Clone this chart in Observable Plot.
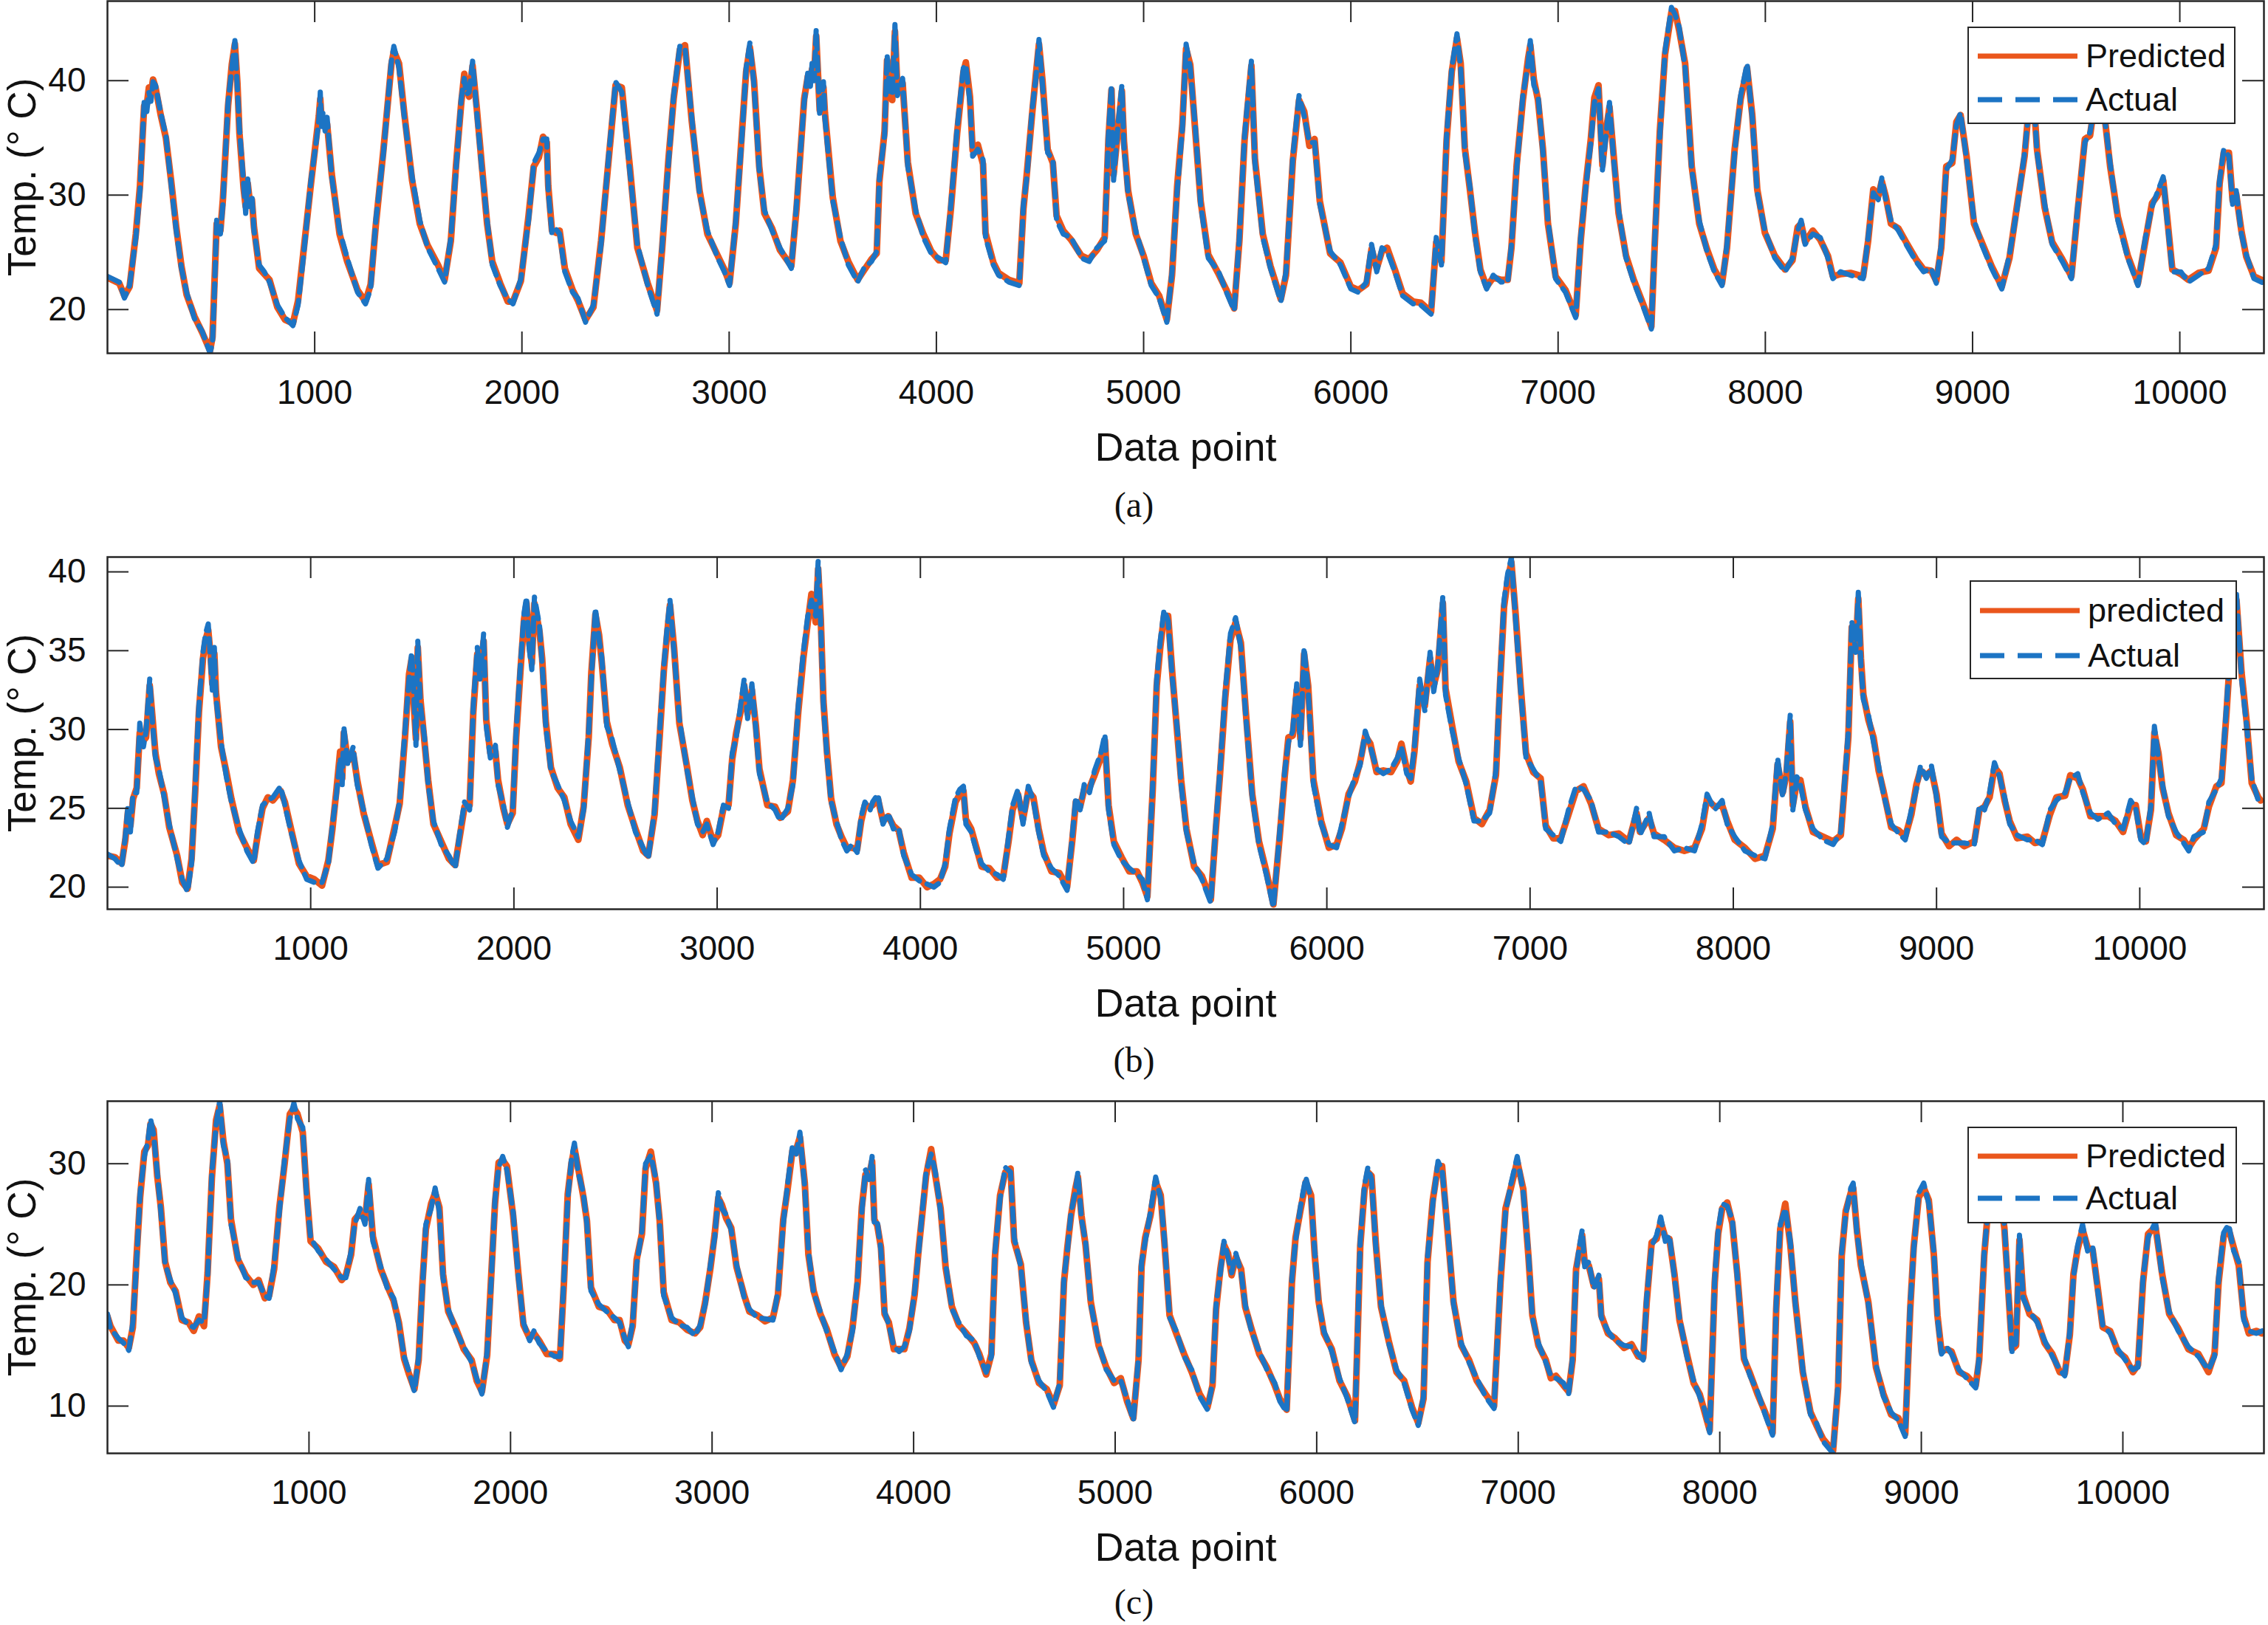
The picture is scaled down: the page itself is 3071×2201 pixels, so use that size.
<!DOCTYPE html>
<html>
<head>
<meta charset="utf-8">
<script src="https://cdn.jsdelivr.net/npm/d3@7"></script>
<script src="https://cdn.jsdelivr.net/npm/@observablehq/plot@0.6"></script>
<style>
  html, body { margin: 0; padding: 0; background: #fff; }
  #fig { position: relative; width: 3071px; height: 2201px; overflow: hidden; background: #fff; }
  .panel { position: absolute; left: 0; }
  .cap { position: absolute; left: 0; width: 3071px; height: 60px; line-height: 60px; text-align: center;
         font-family: "Liberation Serif", "Times New Roman", serif; font-size: 48px; color: #111; }
  .legend { position: absolute; background: #fff; border: 2.5px solid #262626; box-sizing: border-box;
            font-family: "Liberation Sans", Arial, sans-serif; font-size: 45px; color: #111; }
  .legend .row { position: absolute; left: 0; height: 50px; width: 100%; }
  .legend svg { position: absolute; left: 12px; top: 0; }
  .legend span { position: absolute; left: 158px; top: 0; line-height: 50px; }
</style>
</head>
<body>
<div id="fig"></div>
<script>
// ---------------- DATA ----------------
const xTicks = [1000, 2000, 3000, 4000, 5000, 6000, 7000, 8000, 9000, 10000];
const yTicksA = [20, 30, 40];
const yTicksB = [20, 25, 30, 35, 40];
const yTicksC = [10, 20, 30];
const seriesNames = ["Predicted", "Actual"];
const seriesNamesB = ["predicted", "Actual"];
const captions = ["(a)", "(b)", "(c)"];

// Panel (a)
const xA = [
0,57,82,107,137,157,177,190,200,210,
220,232,257,282,307,332,357,382,420,457,
495,507,517,527,545,557,582,600,615,627,
637,657,667,677,687,697,707,732,757,782,
820,857,895,920,945,982,1007,1020,1027,1033,
1040,1050,1060,1082,1120,1157,1207,1245,1270,1295,
1332,1370,1382,1407,1432,1470,1507,1545,1595,1627,
1657,1682,1707,1722,1732,1745,1762,1782,1807,1832,
1857,1895,1932,1957,1995,2032,2057,2082,2102,2120,
2127,2145,2165,2182,2207,2245,2270,2307,2345,2382,
2420,2452,2482,2520,2557,2607,2652,2677,2707,2732,
2762,2787,2820,2857,2895,2945,2977,3002,3032,3062,
3082,3100,3120,3145,3170,3207,3245,3300,3325,3362,
3380,3392,3400,3410,3420,3437,3455,3462,3500,3537,
3575,3620,3650,3687,3712,3725,3750,3762,3775,3787,
3800,3812,3837,3862,3900,3937,3975,4012,4045,4070,
4100,4130,4142,4162,4175,4200,4225,4237,4275,4300,
4350,4400,4420,4437,4462,4480,4495,4512,4537,4562,
4580,4612,4650,4700,4737,4775,4812,4830,4845,4855,
4875,4895,4905,4925,4962,5000,5037,5075,5112,5137,
5162,5187,5205,5225,5250,5275,5312,5362,5400,5437,
5462,5487,5520,5537,5575,5612,5662,5687,5720,5750,
5775,5800,5825,5850,5900,5950,6000,6037,6075,6100,
6125,6150,6175,6212,6250,6300,6337,6387,6412,6437,
6462,6487,6512,6530,6550,6575,6600,6625,6655,6687,
6725,6757,6775,6800,6830,6855,6866,6883,6903,6927,
6951,6988,7036,7085,7109,7134,7158,7175,7195,7214,
7231,7248,7268,7292,7328,7365,7414,7450,7467,7491,
7516,7547,7564,7584,7613,7645,7681,7718,7754,7791,
7815,7852,7881,7912,7937,7961,7998,8046,8095,8131,
8156,8173,8192,8229,8265,8302,8326,8363,8411,8472,
8496,8521,8545,8562,8581,8606,8642,8679,8727,8764,
8800,8825,8849,8873,8902,8922,8942,8971,9007,9044,
9092,9141,9178,9214,9251,9275,9292,9311,9348,9384,
9433,9477,9506,9542,9567,9591,9610,9628,9664,9701,
9749,9798,9834,9866,9891,9920,9939,9964,10005,10041,
10090,10139,10175,10192,10212,10237,10255,10272,10297,10321,
10358,10394,10410];
const actualA = [
22.9,22.4,21.0,22.1,26.3,30.4,38.1,37.3,39.0,38.2,
39.9,39.6,37.2,35.2,31.0,26.9,23.6,21.5,19.2,18.1,
16.2,17.1,22.0,27.8,26.6,29.2,38.1,41.1,43.5,39.3,
35.8,31.0,28.4,31.4,29.0,30.0,26.9,23.9,23.3,22.4,
20.4,19.3,18.6,20.4,24.5,31.3,34.6,36.5,39.0,36.0,
37.2,35.6,36.8,31.6,26.9,24.5,21.5,20.5,21.8,27.8,
33.7,41.7,43.0,41.1,36.9,31.6,27.8,25.4,23.6,22.4,
26.3,32.2,38.4,40.2,38.8,39.0,41.7,37.2,32.2,27.8,
23.9,22.1,20.9,20.5,22.7,27.8,32.8,33.7,34.9,34.9,
30.4,26.6,27.0,26.6,23.3,21.5,21.0,18.9,20.4,25.7,
33.7,39.9,39.0,32.2,25.7,22.1,19.6,25.7,32.8,38.7,
43.0,42.9,36.7,30.1,26.9,24.5,23.3,22.1,27.8,35.2,
41.1,43.3,39.6,32.2,28.7,26.9,25.4,23.6,29.2,38.1,
40.8,39.5,41.5,40.0,44.5,36.9,39.9,36.7,29.5,26.3,
23.9,22.4,23.6,24.2,25.1,31.6,35.2,42.3,39.0,38.7,
44.9,38.7,40.2,32.5,28.7,26.3,24.9,24.5,24.1,29.2,
35.8,41.1,41.4,38.1,33.4,34.0,33.1,26.3,23.9,23.0,
22.4,22.1,29.2,31.6,37.5,40.2,43.6,39.6,33.7,33.1,
27.8,26.6,26.3,24.5,24.2,25.4,26.0,35.2,39.6,31.3,
35.8,39.6,34.3,30.1,26.9,24.5,22.1,21.0,18.9,23.3,
30.4,35.8,43.2,41.1,35.8,29.2,24.5,23.3,21.5,19.9,
26.3,35.2,41.7,32.8,26.3,23.6,20.7,23.3,33.4,38.7,
36.9,34.6,34.6,29.2,25.1,23.9,21.8,21.5,22.4,25.7,
23.3,25.4,25.1,23.3,21.2,20.5,20.4,19.6,26.3,23.9,
35.2,41.1,44.1,41.1,33.7,30.7,26.3,23.3,21.8,23.0,
22.4,22.4,25.7,32.2,38.7,41.5,43.5,39.6,38.7,33.7,
27.8,22.7,21.5,19.3,26.3,30.7,34.6,38.1,39.3,32.2,
35.2,38.1,33.1,28.7,24.5,22.4,20.1,18.3,26.3,35.2,
42.6,46.4,45.8,44.7,41.1,32.2,27.8,25.1,23.3,22.1,
25.7,33.7,38.7,41.5,36.7,30.2,26.9,24.5,23.3,24.5,
26.9,27.8,25.7,26.6,26.3,24.5,22.7,23.3,23.0,22.7,
26.3,30.2,29.6,31.5,29.6,27.8,26.9,25.7,24.2,23.3,
23.6,22.3,25.7,32.2,33.1,36.1,37.2,33.1,27.8,25.7,
23.6,21.8,24.8,28.7,33.7,38.1,39.5,33.7,29.2,25.7,
24.2,22.7,28.7,34.6,35.5,38.1,39.0,38.1,32.8,27.8,
24.5,22.1,26.3,29.0,30.2,31.6,27.8,23.3,23.3,22.4,
23.0,23.6,25.7,31.3,34.0,33.4,29.2,30.4,26.6,24.8,
22.7,22.4,22.3];
const predictedA = [
22.8,22.3,21.2,22.0,26.6,30.8,37.8,37.9,39.4,38.9,
40.1,39.4,37.0,35.0,31.3,27.2,23.8,21.3,19.4,18.0,
16.4,17.6,22.6,27.5,26.9,29.6,37.8,41.4,43.2,39.8,
35.4,30.6,29.0,31.0,29.4,29.6,27.2,23.6,23.1,22.6,
20.2,19.1,18.8,20.8,24.9,31.0,34.9,36.9,38.4,36.5,
36.8,36.1,36.2,31.9,26.6,24.2,21.7,20.7,22.2,27.4,
34.0,41.4,42.6,41.5,37.2,31.3,27.5,25.6,23.9,22.6,
26.0,32.6,38.0,40.6,39.4,38.6,41.3,37.6,32.5,27.5,
24.2,22.3,20.7,20.7,22.5,28.2,32.5,33.3,35.1,34.6,
30.8,26.9,26.7,26.9,23.6,21.7,20.8,19.1,20.2,26.0,
33.4,39.6,39.4,32.6,25.4,22.3,19.9,25.4,33.1,38.4,
42.7,43.1,36.4,30.4,26.6,24.7,23.5,22.3,27.5,35.6,
40.8,42.9,40.0,32.5,28.4,27.1,25.2,23.8,28.8,38.4,
40.4,40.1,41.0,40.5,43.9,37.4,39.4,37.2,29.8,26.0,
24.2,22.6,23.4,24.4,24.9,31.2,35.6,41.8,39.5,38.3,
44.3,39.2,39.8,32.9,28.4,26.6,25.1,24.3,24.3,28.8,
35.4,40.7,41.6,38.6,33.9,34.4,32.7,26.7,24.1,23.2,
22.6,22.3,28.8,32.0,37.1,40.5,43.2,40.0,34.0,32.8,
28.2,26.9,26.1,24.7,24.4,25.2,26.3,34.8,39.2,31.8,
35.4,39.1,34.7,30.4,26.6,24.7,22.3,21.2,19.1,23.0,
30.8,36.2,42.8,41.4,35.4,29.5,24.8,23.1,21.7,20.1,
26.0,34.8,41.3,33.2,26.6,23.8,20.9,23.0,33.0,38.3,
37.3,34.3,34.9,29.5,24.9,24.1,22.0,21.7,22.2,25.3,
23.6,25.1,25.4,23.5,21.4,20.7,20.6,19.8,25.9,24.2,
34.8,40.8,43.7,41.5,34.1,30.4,26.6,23.5,22.0,22.8,
22.6,22.6,25.4,32.6,38.3,41.9,43.1,40.1,38.3,34.0,
27.5,22.9,21.7,19.5,26.0,31.0,34.9,38.5,39.6,32.6,
35.6,37.7,33.5,28.4,24.7,22.6,20.3,18.5,26.0,35.6,
42.3,46.0,46.1,44.4,41.5,32.5,27.5,25.3,23.5,22.3,
25.4,34.0,38.4,41.1,37.0,30.5,26.7,24.7,23.5,24.3,
27.2,27.5,25.9,26.9,26.1,24.7,22.9,23.1,23.2,22.9,
26.0,30.5,29.9,31.2,29.9,27.5,27.1,25.9,24.4,23.5,
23.4,22.5,25.4,32.5,32.8,36.4,37.0,33.4,27.5,25.9,
23.8,22.0,24.5,29.0,33.4,38.4,39.2,34.0,28.9,25.9,
24.4,22.9,28.4,34.9,35.2,38.4,38.7,38.4,32.5,28.1,
24.7,22.3,26.0,29.3,29.9,31.3,28.1,23.5,23.1,22.6,
23.2,23.4,25.4,31.0,33.7,33.7,29.5,30.1,26.9,24.6,
22.9,22.6,22.5];

// Panel (b)
const xB = [
0,37,70,88,101,113,126,144,159,177,
190,208,220,236,253,279,304,343,368,394,
414,432,450,470,483,496,508,516,526,534,
559,585,610,648,686,720,738,763,789,814,
852,873,903,942,980,1018,1056,1087,1107,1127,
1145,1155,1163,1183,1209,1229,1260,1298,1331,1375,
1413,1438,1464,1484,1497,1510,1518,1527,1540,1560,
1578,1604,1642,1680,1711,1731,1757,1782,1800,1820,
1833,1851,1864,1884,1909,1922,1948,1968,1994,2011,
2032,2050,2062,2075,2088,2101,2126,2139,2157,2182,
2215,2248,2279,2317,2343,2368,2381,2401,2419,2432,
2457,2483,2521,2560,2598,2636,2661,2692,2717,2738,
2755,2768,2788,2814,2852,2878,2903,2929,2949,2980,
3005,3031,3056,3074,3094,3115,3133,3150,3171,3191,
3208,3247,3285,3310,3348,3373,3399,3424,3446,3464,
3485,3497,3510,3523,3541,3561,3587,3612,3638,3663,
3689,3709,3727,3753,3765,3791,3816,3842,3867,3893,
3918,3957,3995,4033,4066,4097,4122,4143,4161,4173,
4194,4212,4224,4250,4276,4301,4339,4378,4408,4434,
4454,4480,4505,4531,4556,4582,4607,4645,4684,4722,
4747,4765,4786,4806,4832,4857,4888,4908,4926,4952,
4990,5028,5066,5092,5117,5143,5163,5181,5199,5219,
5240,5265,5283,5309,5347,5385,5429,5454,5474,5500,
5526,5551,5577,5602,5633,5666,5704,5737,5768,5793,
5811,5832,5852,5870,5888,5908,5934,5972,6010,6048,
6074,6107,6138,6163,6189,6214,6245,6278,6316,6347,
6367,6393,6413,6431,6457,6482,6508,6526,6546,6571,
6584,6617,6648,6686,6724,6763,6801,6832,6852,6872,
6890,6908,6929,6954,6980,7015,7052,7077,7114,7151,
7189,7226,7263,7300,7337,7387,7437,7486,7524,7541,
7586,7610,7660,7710,7759,7809,7846,7871,7908,7945,
7970,8007,8057,8107,8156,8194,8218,8243,8261,8280,
8293,8313,8330,8355,8392,8442,8491,8529,8566,8583,
8603,8615,8628,8640,8665,8690,8715,8739,8777,8814,
8846,8876,8901,8921,8950,8975,9000,9025,9062,9099,
9136,9186,9211,9236,9261,9285,9310,9335,9360,9397,
9447,9484,9521,9558,9590,9633,9658,9695,9720,9757,
9794,9844,9881,9918,9955,9980,10005,10030,10055,10072,
10092,10112,10141,10179,10216,10241,10266,10315,10340,10377,
10402,10427,10452,10476,10501,10526,10551,10583,10595];
const actualB = [
22.1,21.8,21.3,23.2,25.2,23.5,26.0,26.0,30.4,28.9,
29.9,33.2,30.7,28.2,27.5,25.7,24.0,21.8,20.5,19.7,
21.5,26.5,31.5,34.9,36.1,36.7,34.2,32.5,35.2,32.0,
29.2,27.0,25.4,23.7,22.3,21.5,23.5,25.2,25.5,25.7,
26.4,25.2,23.5,21.7,20.5,20.3,20.3,21.5,24.0,25.9,
28.2,26.5,30.2,27.7,28.9,26.5,24.9,22.7,21.2,21.8,
23.5,25.5,29.9,33.2,34.9,31.5,29.0,35.6,31.5,29.5,
26.5,24.2,22.7,22.0,21.2,23.2,25.4,24.9,31.5,35.2,
33.2,36.1,30.2,28.2,29.0,26.5,25.2,23.8,24.9,29.9,
34.1,37.4,38.4,35.2,33.8,38.4,36.6,34.1,30.2,27.4,
26.5,25.5,24.2,23.2,24.9,29.9,33.2,37.7,35.7,34.6,
30.2,29.4,27.4,25.4,23.5,22.5,21.8,24.9,29.9,34.1,
36.6,38.2,34.9,30.7,27.4,25.7,24.0,23.5,24.0,22.7,
23.5,25.2,25.0,28.5,29.5,31.5,33.2,30.7,32.9,29.9,
27.2,25.4,24.9,24.2,25.0,26.5,31.5,34.9,37.2,38.2,
37.2,40.7,36.6,31.5,28.2,25.4,24.2,23.0,22.3,22.7,
22.2,24.5,25.4,24.9,25.4,25.9,24.0,24.7,23.7,23.8,
22.0,20.8,20.4,20.2,20.0,20.3,21.5,23.7,24.9,25.7,
26.2,26.4,24.0,23.5,22.3,21.5,21.0,20.8,20.5,23.2,
25.2,26.2,24.0,26.4,25.5,23.5,22.0,21.2,20.7,19.8,
23.2,25.7,24.9,26.5,26.0,27.4,28.5,29.7,24.9,22.7,
21.7,21.2,20.8,20.5,19.2,26.5,33.2,35.7,37.6,36.9,
33.2,29.9,26.5,23.5,21.5,20.5,19.0,24.0,27.4,32.4,
36.1,37.1,35.2,30.7,25.7,22.7,20.7,18.7,23.5,27.4,
29.2,29.9,32.9,29.0,35.2,32.5,26.5,24.0,22.7,22.5,
24.0,25.7,27.0,27.7,29.9,28.9,27.5,27.2,27.5,28.2,
28.9,27.2,26.9,28.9,33.2,31.2,34.9,32.4,34.1,38.5,
32.2,29.9,28.2,26.5,24.2,24.2,24.7,27.4,33.2,38.2,
39.9,40.9,36.9,32.4,28.2,27.5,26.7,23.7,23.3,22.9,
24.9,26.4,26.2,25.5,23.5,23.5,23.2,22.7,25.0,23.3,
24.7,23.2,23.2,22.3,22.5,22.3,24.0,25.9,24.9,25.5,
24.0,23.2,22.3,22.0,21.8,24.0,28.2,25.7,27.4,30.9,
24.9,27.0,26.5,24.9,23.7,23.0,22.7,23.5,29.9,36.9,
34.9,38.7,34.1,31.9,30.9,29.2,27.7,25.9,24.0,23.4,
23.0,24.9,26.2,27.7,26.9,27.7,25.7,23.2,22.8,22.8,
22.8,22.7,25.2,24.9,26.0,27.9,27.0,25.7,24.0,23.3,
23.0,23.0,22.7,24.9,25.5,26.0,26.9,27.2,26.0,24.7,
24.3,24.7,24.0,23.7,25.5,25.0,23.0,22.7,25.2,30.2,
28.2,26.5,24.5,23.5,22.8,22.3,23.2,23.5,25.4,26.2,
26.9,31.5,36.6,38.6,33.2,30.2,26.9,25.5,25.4];
const predictedB = [
22.0,21.9,21.5,23.0,24.8,23.9,25.6,26.3,29.8,29.3,
29.5,32.8,31.0,28.5,27.2,25.9,23.8,22.0,20.3,19.9,
21.8,26.1,31.1,34.5,35.7,36.3,34.6,32.9,34.8,32.4,
28.9,27.3,25.6,23.5,22.5,21.7,23.2,25.0,25.7,25.5,
26.1,25.4,23.7,21.5,20.7,20.5,20.1,21.7,23.7,26.2,
28.6,26.9,29.8,28.0,28.5,26.8,24.7,22.9,21.4,21.6,
23.8,25.3,29.5,33.5,34.5,31.0,29.4,35.2,31.9,29.2,
26.8,24.0,22.9,21.8,21.4,23.0,25.1,25.2,31.1,34.8,
33.6,35.6,30.6,28.5,28.6,26.8,25.0,24.0,24.7,29.5,
33.7,37.0,38.0,35.6,34.2,38.0,36.2,34.5,30.5,27.6,
26.3,25.7,24.0,23.0,25.1,29.5,33.6,37.3,36.0,34.3,
30.5,29.1,27.6,25.2,23.7,22.3,22.0,24.6,29.5,33.8,
36.2,37.9,35.2,30.4,27.6,25.5,24.2,23.3,24.2,22.9,
23.3,25.0,25.2,28.1,29.8,31.1,32.8,31.0,32.5,30.2,
27.5,25.2,25.1,24.4,24.8,26.8,31.1,34.5,36.8,38.6,
36.8,40.2,37.0,31.8,28.5,25.6,24.0,23.2,22.5,22.5,
22.4,24.2,25.2,25.1,25.2,25.6,24.2,24.5,23.9,23.6,
22.2,20.6,20.6,20.0,20.2,20.5,21.3,23.4,24.6,25.4,
25.9,26.1,24.3,23.7,22.5,21.3,21.2,20.6,20.7,22.9,
24.9,25.9,24.3,26.1,25.7,23.7,22.2,21.0,20.9,20.0,
22.9,25.4,25.1,26.2,26.3,27.1,28.2,29.3,25.2,22.9,
21.9,21.0,21.0,20.3,19.4,26.1,32.8,35.3,37.2,37.2,
33.5,29.6,26.8,23.7,21.3,20.7,19.2,23.7,27.1,32.0,
35.7,36.8,35.5,31.0,25.9,22.9,20.9,18.9,23.2,27.1,
29.5,29.6,32.5,29.4,34.8,32.8,26.8,24.2,22.5,22.7,
23.7,25.9,26.7,27.9,29.6,29.1,27.3,27.4,27.3,28.0,
29.1,27.5,26.7,28.6,32.8,31.5,34.5,32.8,33.8,38.0,
32.6,30.2,28.0,26.7,24.4,24.0,24.9,27.1,32.8,37.8,
39.5,40.6,37.3,32.7,28.5,27.3,26.9,23.9,23.1,23.1,
24.6,26.1,26.4,25.3,23.7,23.3,23.4,22.9,24.7,23.5,
24.4,23.4,23.0,22.5,22.3,22.5,23.7,25.6,25.1,25.2,
24.2,23.0,22.5,21.8,22.0,23.7,27.8,26.0,27.1,30.5,
25.2,26.7,26.8,25.1,23.5,23.2,22.9,23.3,29.5,36.5,
35.2,38.3,34.5,32.2,30.6,29.5,27.4,26.1,23.8,23.6,
23.2,24.6,26.5,27.4,27.1,27.4,25.9,23.4,22.6,23.0,
22.6,22.9,24.9,25.1,25.7,27.6,27.2,25.5,24.2,23.1,
23.2,22.8,22.9,24.6,25.7,25.8,27.1,26.9,26.2,24.5,
24.5,24.5,24.2,23.5,25.2,25.2,23.2,22.9,24.9,29.8,
28.5,26.3,24.7,23.3,23.0,22.5,23.0,23.7,25.1,26.4,
26.6,31.1,36.2,38.2,33.6,30.5,26.6,25.7,25.5];

// Panel (c)
const xC = [
0,15,54,80,106,126,144,162,183,201,
214,229,247,265,286,312,338,369,402,428,
454,479,497,518,539,557,575,595,613,647,
686,724,750,781,802,827,853,879,905,925,
943,969,987,1008,1046,1085,1124,1162,1183,1209,
1227,1253,1278,1296,1317,1356,1389,1420,1446,1472,
1497,1523,1544,1562,1580,1606,1626,1647,1665,1691,
1729,1768,1807,1832,1858,1884,1905,1923,1941,1961,
1982,2013,2039,2064,2095,2116,2142,2180,2219,2245,
2265,2284,2302,2317,2335,2361,2379,2399,2438,2477,
2515,2541,2567,2585,2606,2626,2652,2670,2696,2722,
2740,2760,2799,2838,2876,2915,2941,2966,2992,3013,
3031,3049,3070,3095,3121,3160,3185,3224,3263,3302,
3327,3353,3374,3399,3418,3436,3460,3478,3504,3537,
3568,3607,3640,3671,3697,3722,3743,3761,3779,3794,
3805,3820,3838,3856,3877,3902,3928,3954,3979,4005,
4026,4044,4062,4087,4108,4134,4159,4190,4224,4262,
4301,4326,4360,4386,4404,4429,4455,4481,4499,4532,
4558,4584,4622,4661,4694,4725,4746,4763,4781,4802,
4815,4833,4853,4879,4918,4956,4995,5028,5059,5090,
5116,5131,5149,5175,5201,5226,5244,5270,5303,5342,
5380,5419,5458,5483,5501,5522,5540,5560,5578,5599,
5625,5645,5676,5715,5753,5792,5817,5851,5877,5895,
5920,5946,5972,5990,6010,6036,6075,6113,6152,6190,
6203,6216,6237,6254,6272,6293,6319,6357,6396,6434,
6473,6504,6530,6550,6576,6602,6622,6648,6679,6717,
6756,6794,6837,6880,6912,6937,6962,6995,7025,7050,
7070,7100,7137,7162,7187,7225,7250,7270,7287,7300,
7317,7330,7350,7375,7400,7412,7445,7480,7525,7562,
7595,7620,7637,7662,7687,7707,7730,7750,7775,7800,
7837,7870,7900,7925,7950,7975,7992,8012,8037,8062,
8087,8120,8150,8187,8225,8262,8280,8300,8325,8350,
8375,8412,8450,8480,8512,8562,8587,8605,8625,8650,
8662,8680,8700,8737,8775,8812,8850,8887,8920,8945,
8962,8987,9012,9037,9062,9080,9100,9125,9150,9187,
9225,9270,9287,9312,9337,9355,9380,9412,9450,9470,
9487,9505,9537,9575,9612,9650,9687,9712,9737,9755,
9775,9800,9825,9850,9875,9900,9937,9975,10012,10050,
10075,10100,10125,10162,10195,10230,10275,10325,10375,10425,
10455,10475,10500,10525,10550,10575,10600,10625,10662,10690];
const actualC = [
17.6,16.4,15.6,15.2,14.6,16.9,21.7,27.6,30.6,31.9,
33.7,32.4,29.3,26.0,21.7,20.4,19.3,17.3,16.7,16.5,
17.1,16.9,20.6,29.3,33.2,35.2,31.5,30.4,25.0,22.3,
20.6,20.2,20.2,19.1,18.9,21.7,26.0,30.4,33.7,35.0,
33.7,33.0,27.6,23.9,22.8,22.1,21.3,20.6,20.6,22.8,
25.0,26.3,25.0,28.7,23.6,21.5,19.7,18.9,16.7,14.1,
12.8,11.2,14.1,19.5,25.0,26.3,28.0,26.0,20.6,18.0,
16.2,14.9,13.6,12.3,11.0,14.5,20.6,27.1,29.7,30.6,
29.5,26.0,20.6,16.9,15.4,16.2,15.2,14.5,14.1,14.1,
20.6,27.1,30.4,31.7,29.3,27.6,25.0,19.5,18.4,17.8,
17.3,16.9,15.6,14.9,16.9,21.7,24.5,30.0,30.7,28.7,
25.0,19.1,17.3,16.7,16.5,15.8,16.7,18.4,21.7,23.9,
27.6,26.3,25.8,24.5,21.7,18.9,18.0,17.3,17.2,17.1,
19.5,25.0,28.2,31.5,30.8,32.6,28.0,22.8,19.3,17.8,
16.2,14.5,13.0,14.3,16.2,20.6,26.0,29.5,28.7,30.6,
25.0,25.2,22.8,17.8,16.7,14.9,14.5,14.9,16.2,19.5,
22.8,26.3,29.3,30.8,29.3,26.0,21.7,18.0,16.9,15.8,
15.4,14.1,12.8,14.1,22.8,27.1,29.7,29.3,23.9,21.5,
17.1,13.6,12.1,11.2,9.9,11.9,20.6,22.8,26.0,27.6,
29.3,25.4,23.6,18.4,15.2,13.0,12.1,12.1,10.6,8.8,
14.1,21.9,23.6,26.0,28.9,27.1,23.9,17.3,16.2,14.1,
13.0,10.8,9.7,11.9,18.4,21.0,23.6,22.3,21.0,22.6,
21.0,18.4,16.2,14.5,13.0,11.9,10.4,9.5,20.6,23.6,
26.5,28.9,27.1,22.8,18.4,16.2,14.5,12.3,10.6,8.6,
16.2,23.6,28.2,29.7,28.7,23.2,18.4,15.2,13.0,11.9,
9.7,8.4,10.8,22.3,26.7,30.2,29.5,25.0,18.4,15.2,
13.6,12.3,10.8,9.8,20.6,26.0,28.2,30.6,27.6,22.8,
17.3,15.2,13.6,12.5,12.3,11.9,11.0,14.1,21.0,22.8,
24.5,21.5,21.9,19.7,20.8,17.3,16.2,15.4,15.0,14.9,
14.3,13.8,18.9,23.2,24.1,25.6,23.6,24.1,20.6,17.3,
14.1,12.1,10.8,9.7,7.8,20.6,24.5,26.7,26.5,25.4,
20.6,14.1,12.5,11.2,9.3,7.6,18.4,25.0,26.3,23.6,
18.4,13.0,9.3,8.6,7.1,6.1,11.9,22.8,25.8,28.0,
28.4,24.3,21.9,18.4,13.4,10.8,9.5,8.8,7.5,18.4,
22.8,27.6,28.4,26.7,22.8,17.3,14.3,14.9,14.3,13.0,
12.3,11.5,14.1,22.8,27.1,30.0,28.5,25.0,14.5,15.2,
24.1,18.9,17.8,16.9,15.4,14.1,13.0,12.5,16.2,20.6,
23.2,25.0,22.8,23.2,19.5,16.7,16.0,14.7,13.8,13.0,
13.2,20.6,23.9,25.2,20.6,17.8,16.2,14.9,14.1,13.0,
14.1,20.6,24.3,25.0,22.8,21.9,17.1,16.2,16.0,16.2];
const predictedC = [
17.4,16.6,15.4,15.4,14.8,16.5,22.2,27.2,31.0,31.5,
33.3,32.8,29.0,26.4,21.9,20.2,19.5,17.1,16.9,16.2,
17.4,16.6,21.0,28.8,33.6,34.8,31.9,30.0,25.4,22.1,
20.8,20.0,20.4,18.9,19.1,21.3,26.4,30.0,34.1,34.6,
34.1,32.6,28.0,23.6,23.0,21.9,21.5,20.4,20.8,22.5,
25.4,25.9,25.4,28.3,24.0,21.3,19.9,18.7,16.9,13.9,
12.6,11.4,13.8,19.9,24.6,26.7,27.6,26.4,20.9,17.8,
16.4,14.7,13.8,12.1,11.2,14.2,21.0,26.7,30.1,30.3,
29.8,25.7,20.9,16.7,15.6,16.0,15.4,14.3,14.3,13.9,
20.2,27.5,30.0,31.3,29.7,27.3,25.3,19.8,18.2,18.0,
17.1,17.1,15.4,15.1,16.6,22.1,24.2,29.6,31.0,28.4,
25.3,19.4,17.1,16.9,16.3,16.0,16.5,18.6,21.4,24.2,
27.2,26.6,25.5,24.7,21.5,19.1,17.8,17.5,17.0,17.3,
19.2,25.4,27.8,31.1,31.2,32.2,28.4,22.5,19.5,17.6,
16.4,14.3,13.2,14.1,16.5,20.2,26.4,29.1,29.0,30.2,
25.4,24.9,23.1,17.6,16.9,14.7,14.7,14.7,16.4,19.2,
23.1,26.0,29.0,31.2,29.0,26.3,21.4,18.2,16.7,16.0,
15.2,14.3,12.6,14.3,22.4,27.4,29.3,29.6,23.6,21.7,
16.9,13.8,11.9,11.4,10.1,11.7,20.2,23.1,25.7,27.9,
28.9,25.7,23.3,18.6,15.0,13.2,11.9,12.3,10.4,9.0,
13.8,21.5,23.9,25.7,28.5,27.4,23.6,17.5,16.0,14.3,
12.8,11.0,9.9,11.7,18.0,21.3,23.3,22.6,20.8,22.3,
21.3,18.2,16.4,14.3,13.2,11.7,10.6,9.7,20.2,23.9,
26.2,28.5,27.4,22.5,18.6,16.0,14.7,12.1,10.8,8.8,
15.8,23.2,27.8,29.3,29.0,23.5,18.2,15.4,12.8,12.1,
9.9,8.6,10.6,21.9,27.0,29.8,29.8,24.7,18.6,15.0,
13.8,12.1,11.0,10.0,20.2,26.3,27.9,30.2,27.9,22.5,
17.5,15.0,13.8,12.3,12.5,11.7,11.2,13.8,21.3,22.5,
24.1,21.8,21.6,19.9,20.5,17.5,16.0,15.6,14.8,15.1,
14.1,14.0,18.5,23.5,23.8,25.2,23.9,23.8,20.9,17.1,
14.3,11.9,11.0,9.5,8.0,20.2,24.2,26.3,26.8,25.1,
20.9,13.9,12.7,11.0,9.5,7.8,18.0,24.6,26.7,23.3,
18.6,12.8,9.5,8.4,7.3,6.3,11.5,22.4,26.1,27.6,
28.0,24.6,21.6,18.6,13.2,11.0,9.3,9.0,7.7,18.0,
23.1,27.2,28.0,27.0,22.5,17.5,14.5,14.7,14.5,12.8,
12.5,11.7,13.8,22.4,27.4,29.6,28.8,24.7,14.7,15.0,
23.7,19.2,17.6,17.1,15.2,14.3,12.8,12.7,15.9,20.9,
22.9,24.6,23.1,22.9,19.8,16.5,16.2,14.5,14.0,12.8,
13.4,20.2,24.2,24.8,20.9,17.6,16.4,14.7,14.3,12.8,
14.3,20.2,24.0,24.6,23.1,21.6,17.4,16.0,16.2,16.0];

// ---------------- LAYOUT / STYLE ----------------
const W = 3071, ML = 145, MR = 6, MT = 10, PH = 477, MB = 175;
const H = MT + PH + MB;
const PW = W - ML - MR;
const ORANGE = "#EA561C", BLUE = "#1C74C4", INK = "#262626";
const TICKLEN = 29;
const LINE_W_PRED = 9, LINE_W_ACT = 7, DASH = "18,11";

const panelSpecs = [
  {xs: xA, act: actualA, pred: predictedA, xMax: 10406, yDomain: [16.18, 46.95], yTicks: yTicksA,
   plotTop: 1, names: seriesNames, cap: captions[0], capCenter: 684,
   legend: {left: 2664, top: 36, width: 363, height: 132, rows: [40, 99]}},
  {xs: xB, act: actualB, pred: predictedB, xMax: 10611, yDomain: [18.6, 40.94], yTicks: yTicksB,
   plotTop: 754, names: seriesNamesB, cap: captions[1], capCenter: 1436,
   legend: {left: 2667, top: 786, width: 362, height: 134, rows: [41, 102]}},
  {xs: xC, act: actualC, pred: predictedC, xMax: 10700, yDomain: [6.1, 35.16], yTicks: yTicksC,
   plotTop: 1491, names: seriesNames, cap: captions[2], capCenter: 2170,
   legend: {left: 2664, top: 1526, width: 365, height: 131, rows: [40, 97]}}
];

const fig = document.getElementById("fig");

function makePanel(s) {
  const n = Math.min(s.xs.length, s.act.length, s.pred.length);
  const rows = [];
  for (let i = 0; i < n; i++) rows.push({x: s.xs[i], actual: s.act[i], predicted: s.pred[i]});
  return Plot.plot({
    width: W, height: H,
    marginLeft: ML, marginRight: MR, marginTop: MT, marginBottom: MB,
    x: {domain: [0, s.xMax]},
    y: {domain: s.yDomain},
    style: {fontFamily: "'Liberation Sans', Arial, Helvetica, sans-serif", color: "#111", background: "#fff", overflow: "visible"},
    marks: [
      Plot.line(rows, {x: "x", y: "predicted", stroke: ORANGE, strokeWidth: LINE_W_PRED, strokeLinejoin: "round", clip: true}),
      Plot.line(rows, {x: "x", y: "actual", stroke: BLUE, strokeWidth: LINE_W_ACT, strokeDasharray: DASH, strokeLinejoin: "round", clip: true}),
      Plot.tickX(xTicks, {x: d => d, insetTop: PH - TICKLEN, stroke: INK, strokeWidth: 2}),
      Plot.tickX(xTicks, {x: d => d, insetBottom: PH - TICKLEN, stroke: INK, strokeWidth: 2}),
      Plot.tickY(s.yTicks, {y: d => d, insetRight: PW - TICKLEN, stroke: INK, strokeWidth: 2}),
      Plot.tickY(s.yTicks, {y: d => d, insetLeft: PW - TICKLEN, stroke: INK, strokeWidth: 2}),
      Plot.axisX(xTicks, {anchor: "bottom", tickSize: 0, tickPadding: 36, fontSize: 46, tickFormat: d3.format("d"), label: null}),
      Plot.axisY(s.yTicks, {anchor: "left", tickSize: 0, tickPadding: 29, fontSize: 46, tickFormat: d3.format("d"), label: null}),
      Plot.frame({stroke: INK, strokeWidth: 2.5}),
      Plot.text(["Data point"], {text: d => d, frameAnchor: "bottom", dy: 128, lineAnchor: "middle", textAnchor: "middle", fontSize: 54, fill: "#111"}),
      Plot.text(["Temp. (° C)"], {text: d => d, frameAnchor: "left", dx: -114, rotate: -90, lineAnchor: "middle", textAnchor: "middle", fontSize: 53, fill: "#111"})
    ]
  });
}

function makeLegend(s) {
  const L = s.legend;
  const box = document.createElement("div");
  box.className = "legend";
  Object.assign(box.style, {left: L.left + "px", top: L.top + "px", width: L.width + "px", height: L.height + "px"});
  const styles = [{stroke: ORANGE, w: 7, dash: null}, {stroke: BLUE, w: 7, dash: "33,18"}];
  s.names.forEach((name, i) => {
    const row = document.createElement("div");
    row.className = "row";
    row.style.top = (L.rows[i] - 25 - 2.5) + "px";
    const ns = "http://www.w3.org/2000/svg";
    const svg = document.createElementNS(ns, "svg");
    svg.setAttribute("width", 140); svg.setAttribute("height", 50);
    const ln = document.createElementNS(ns, "line");
    ln.setAttribute("x1", 0); ln.setAttribute("x2", 135);
    ln.setAttribute("y1", 25); ln.setAttribute("y2", 25);
    ln.setAttribute("stroke", styles[i].stroke);
    ln.setAttribute("stroke-width", styles[i].w);
    if (styles[i].dash) ln.setAttribute("stroke-dasharray", styles[i].dash);
    svg.appendChild(ln);
    const sp = document.createElement("span");
    sp.textContent = name;
    row.appendChild(svg); row.appendChild(sp);
    box.appendChild(row);
  });
  return box;
}

panelSpecs.forEach(s => {
  const p = makePanel(s);
  p.classList.add("panel");
  p.style.position = "absolute";
  p.style.top = (s.plotTop - MT) + "px";
  p.style.left = "0px";
  fig.appendChild(p);
  fig.appendChild(makeLegend(s));
  const c = document.createElement("div");
  c.className = "cap";
  c.style.top = (s.capCenter - 30) + "px";
  c.textContent = s.cap;
  fig.appendChild(c);
});
</script>
</body>
</html>
